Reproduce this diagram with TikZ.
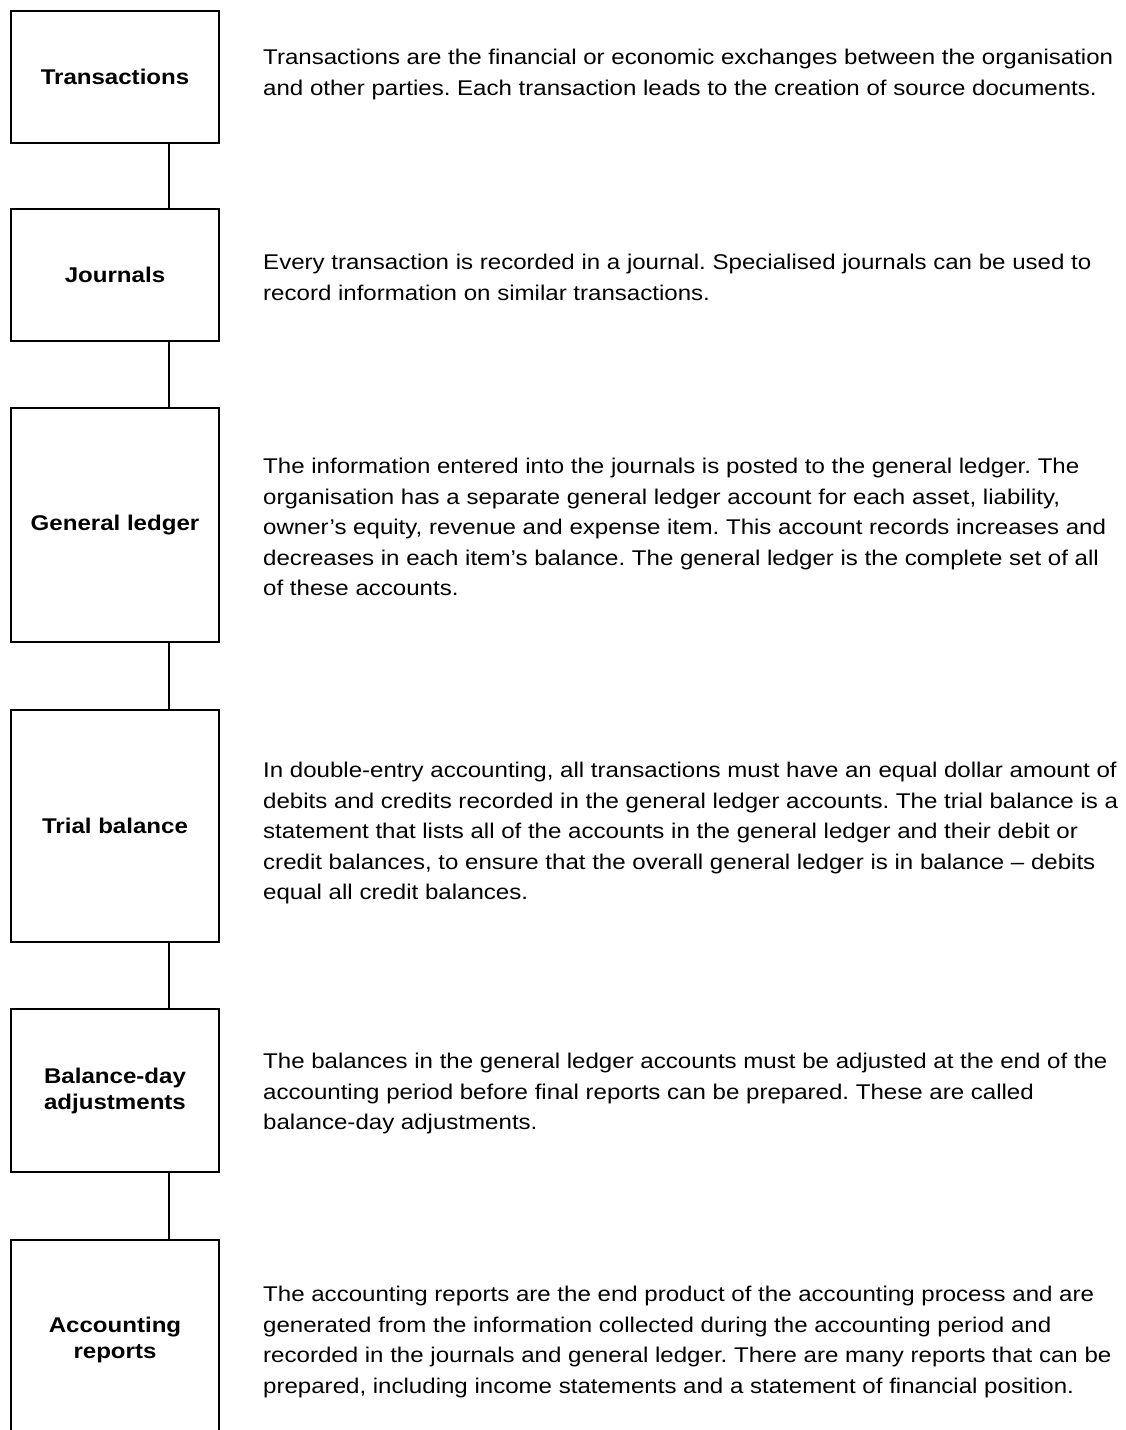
\documentclass[tikz,border=0pt]{standalone}
\usepackage{fontspec}
\setmainfont[FakeStretch=1.13]{Liberation Sans}
\usepackage{tikz}
\frenchspacing

\begin{document}
\begin{tikzpicture}[
    x=1pt, y=-1pt,
    stagebox/.style={rectangle, draw, line width=2pt, minimum width=208pt, inner sep=0pt, align=center, font=\fontsize{21.3}{26}\selectfont\bfseries},
    desc/.style={anchor=west, inner sep=0pt, align=left, font=\fontsize{21.3}{30.5}\selectfont},
    link/.style={line width=2pt}
]
\useasboundingbox (0,0) rectangle (1125,1430);
\clip (0,0) rectangle (1125,1430);

% Transactions
\node[stagebox, minimum height=132pt] (trans) at (115,77) {Transactions};
\node[desc] (transtxt) at (263,74.5) {Transactions are the financial or economic exchanges between the organisation\\and other parties. Each transaction leads to the creation of source documents.};

% Journals
\node[stagebox, minimum height=132pt] (journ) at (115,275) {Journals};
\node[desc] (journtxt) at (263,277.5) {Every transaction is recorded in a journal. Specialised journals can be used to\\record information on similar transactions.};

% General ledger
\node[stagebox, minimum height=234pt] (ledger) at (115,525) {General ledger};
\node[desc] (ledgertxt) at (263,527) {The information entered into the journals is posted to the general ledger. The\\organisation has a separate general ledger account for each asset, liability,\\owner’s equity, revenue and expense item. This account records increases and\\decreases in each item’s balance. The general ledger is the complete set of all\\of these accounts.};

% Trial balance
\node[stagebox, minimum height=232pt] (trial) at (115,826) {Trial balance};
\node[desc] (trialtxt) at (263,833) {In double-entry accounting, all transactions must have an equal dollar amount of\\debits and credits recorded in the general ledger accounts. The trial balance is a\\statement that lists all of the accounts in the general ledger and their debit or\\credit balances, to ensure that the overall general ledger is in balance – debits\\equal all credit balances.};

% Balance-day adjustments
\node[stagebox, minimum height=163pt] (adjust) at (115,1090.5) {Balance-day\\adjustments};
\node[desc] (adjusttxt) at (263,1093.5) {The balances in the general ledger accounts must be adjusted at the end of the\\accounting period before final reports can be prepared. These are called\\balance-day adjustments.};

% Accounting reports
\node[stagebox, minimum height=200pt] (reports) at (115,1340) {Accounting\\reports};
\node[desc] (reportstxt) at (263,1342) {The accounting reports are the end product of the accounting process and are\\generated from the information collected during the accounting period and\\recorded in the journals and general ledger. There are many reports that can be\\prepared, including income statements and a statement of financial position.};

% Links
\draw[link] ([xshift=54pt]trans.south) -- ([xshift=54pt]journ.north);
\draw[link] ([xshift=54pt]journ.south) -- ([xshift=54pt]ledger.north);
\draw[link] ([xshift=54pt]ledger.south) -- ([xshift=54pt]trial.north);
\draw[link] ([xshift=54pt]trial.south) -- ([xshift=54pt]adjust.north);
\draw[link] ([xshift=54pt]adjust.south) -- ([xshift=54pt]reports.north);

\end{tikzpicture}
\end{document}
